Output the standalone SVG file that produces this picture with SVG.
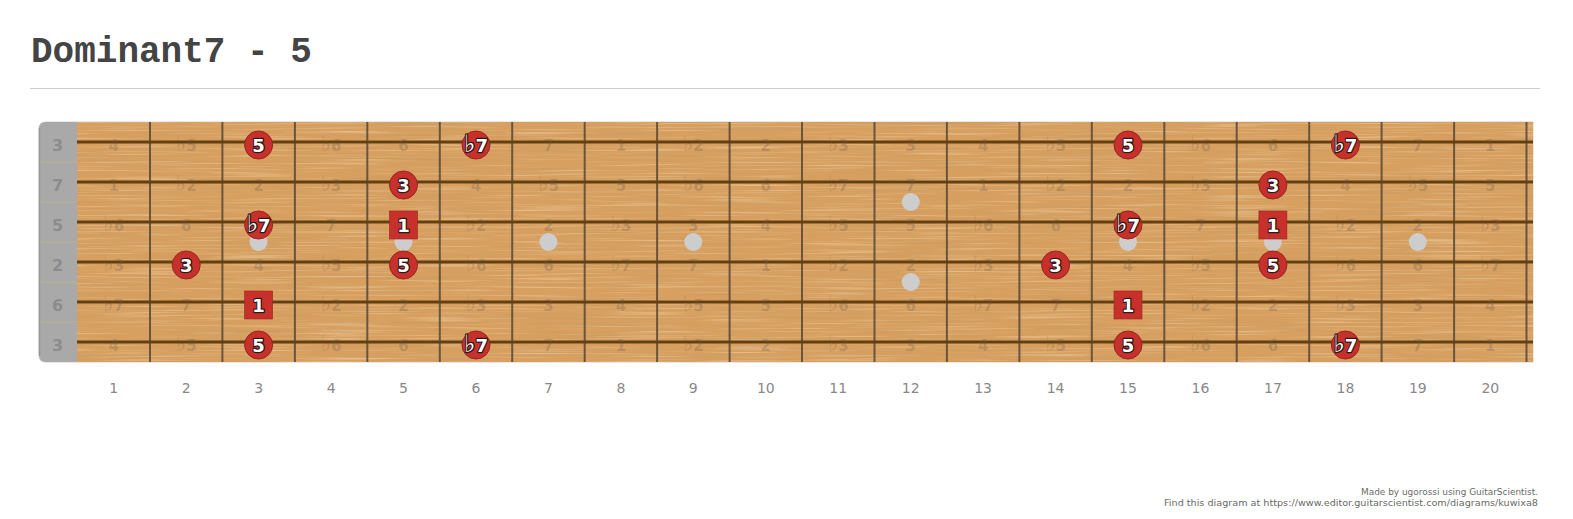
<svg xmlns="http://www.w3.org/2000/svg" width="1573" height="519" viewBox="0 0 1573 519">
<style>
.title{font-family:"Liberation Mono","DejaVu Sans Mono",monospace;font-weight:bold;font-size:36px;fill:#444}
.fret{stroke:#564636;stroke-width:2;stroke-opacity:0.85}
.str{stroke:#643f10;stroke-width:3}
.ghost{font-family:"DejaVu Sans",sans-serif;font-weight:bold;font-size:15px;fill:#6e5a46;fill-opacity:0.28;text-anchor:middle}
.fl{font-size:22px}
.slab{font-family:"DejaVu Sans",sans-serif;font-weight:bold;font-size:16px;fill:#8c8c8c;text-anchor:middle}
.fnum{font-family:"DejaVu Sans",sans-serif;font-size:14px;fill:#888;text-anchor:middle}
.inlay{fill:#cdcdcd}
.dot circle{fill:#c8302b;stroke:#962620;stroke-width:1}
.dot rect{fill:#c8302b;stroke:#962620;stroke-width:0.6}
.dot text{font-family:"DejaVu Sans",sans-serif;font-weight:bold;font-size:18px;fill:#fff;stroke:#2a1a1a;stroke-width:2.4;paint-order:stroke;stroke-linejoin:round;text-anchor:middle}
.dot .mf{font-size:24px}
.foot{font-family:"DejaVu Sans",sans-serif;font-size:9px;fill:#6a6a6a;text-anchor:end}
</style>
<defs>
<filter id="grain" x="0" y="0" width="100%" height="100%">
<feTurbulence type="fractalNoise" baseFrequency="0.006 0.4" numOctaves="3" seed="7" result="n"/>
<feColorMatrix in="n" type="matrix" values="0 0 0 0 0.6  0 0 0 0 0.33  0 0 0 0 0.12  1.9 0 0 0 -0.82"/>
</filter>
<filter id="grain2" x="0" y="0" width="100%" height="100%">
<feTurbulence type="fractalNoise" baseFrequency="0.01 0.6" numOctaves="2" seed="2" result="n"/>
<feColorMatrix in="n" type="matrix" values="0 0 0 0 0.93  0 0 0 0 0.76  0 0 0 0 0.52  1.3 0 0 0 -0.68"/>
</filter>
</defs>
<rect width="1573" height="519" fill="#fff"/>
<text class="title" x="31" y="62">Dominant7 - 5</text>
<line x1="30" y1="88.5" x2="1540" y2="88.5" stroke="#ccc" stroke-width="1"/>

<g id="board">
<path d="M46 121.5 H1533.5 V362.5 H46 Q38.5 362.5 38.5 355 V129 Q38.5 121.5 46 121.5 Z" fill="#cfcfcf"/>
<rect x="77" y="122" width="1456" height="240" fill="#d8a060"/>
<rect x="77" y="122" width="1456" height="240" filter="url(#grain)"/>
<rect x="77" y="122" width="1456" height="240" filter="url(#grain2)"/>
<path d="M46 122 H77 V362 H46 Q39 362 39 355 V129 Q39 122 46 122 Z" fill="#a9a9a9"/>
<g stroke="#c9b08a" stroke-width="1" stroke-opacity="0.6">
<line x1="40" y1="162" x2="77" y2="162"/><line x1="40" y1="202" x2="77" y2="202"/><line x1="40" y1="242" x2="77" y2="242"/><line x1="40" y1="282" x2="77" y2="282"/><line x1="40" y1="322" x2="77" y2="322"/>
</g>
<line x1="39.5" y1="128" x2="39.5" y2="356" stroke="#979797" stroke-width="1.5"/>
<g id="frets">
<line class="fret" x1="150" y1="122" x2="150" y2="362"/>
<line class="fret" x1="222.4" y1="122" x2="222.4" y2="362"/>
<line class="fret" x1="294.9" y1="122" x2="294.9" y2="362"/>
<line class="fret" x1="367.3" y1="122" x2="367.3" y2="362"/>
<line class="fret" x1="439.8" y1="122" x2="439.8" y2="362"/>
<line class="fret" x1="512.2" y1="122" x2="512.2" y2="362"/>
<line class="fret" x1="584.7" y1="122" x2="584.7" y2="362"/>
<line class="fret" x1="657.1" y1="122" x2="657.1" y2="362"/>
<line class="fret" x1="729.6" y1="122" x2="729.6" y2="362"/>
<line class="fret" x1="802" y1="122" x2="802" y2="362"/>
<line class="fret" x1="874.5" y1="122" x2="874.5" y2="362"/>
<line class="fret" x1="946.9" y1="122" x2="946.9" y2="362"/>
<line class="fret" x1="1019.4" y1="122" x2="1019.4" y2="362"/>
<line class="fret" x1="1091.8" y1="122" x2="1091.8" y2="362"/>
<line class="fret" x1="1164.3" y1="122" x2="1164.3" y2="362"/>
<line class="fret" x1="1236.7" y1="122" x2="1236.7" y2="362"/>
<line class="fret" x1="1309.2" y1="122" x2="1309.2" y2="362"/>
<line class="fret" x1="1381.6" y1="122" x2="1381.6" y2="362"/>
<line class="fret" x1="1454.1" y1="122" x2="1454.1" y2="362"/>
<line class="fret" x1="1526.5" y1="122" x2="1526.5" y2="362"/>
</g>
<g id="strings">
<line class="str" x1="77" y1="142" x2="1533" y2="142"/>
<line class="str" x1="77" y1="182" x2="1533" y2="182"/>
<line class="str" x1="77" y1="222" x2="1533" y2="222"/>
<line class="str" x1="77" y1="262" x2="1533" y2="262"/>
<line class="str" x1="77" y1="302" x2="1533" y2="302"/>
<line class="str" x1="77" y1="342" x2="1533" y2="342"/>
</g>
<g id="string-labels">
<text class="slab" x="57.5" y="151">3</text>
<text class="slab" x="57.5" y="191">7</text>
<text class="slab" x="57.5" y="231">5</text>
<text class="slab" x="57.5" y="271">2</text>
<text class="slab" x="57.5" y="311">6</text>
<text class="slab" x="57.5" y="351">3</text>
</g>
<g id="ghost-notes">
<text class="ghost" x="113.7" y="151">4</text><text class="ghost" x="186.2" y="151"><tspan class="fl">♭</tspan>5</text><text class="ghost" x="331.1" y="151"><tspan class="fl">♭</tspan>6</text><text class="ghost" x="403.5" y="151">6</text><text class="ghost" x="548.4" y="151">7</text><text class="ghost" x="620.9" y="151">1</text><text class="ghost" x="693.3" y="151"><tspan class="fl">♭</tspan>2</text><text class="ghost" x="765.8" y="151">2</text><text class="ghost" x="838.2" y="151"><tspan class="fl">♭</tspan>3</text><text class="ghost" x="910.7" y="151">3</text><text class="ghost" x="983.1" y="151">4</text><text class="ghost" x="1055.6" y="151"><tspan class="fl">♭</tspan>5</text><text class="ghost" x="1200.5" y="151"><tspan class="fl">♭</tspan>6</text><text class="ghost" x="1272.9" y="151">6</text><text class="ghost" x="1417.8" y="151">7</text><text class="ghost" x="1490.3" y="151">1</text>
<text class="ghost" x="113.7" y="191">1</text><text class="ghost" x="186.2" y="191"><tspan class="fl">♭</tspan>2</text><text class="ghost" x="258.6" y="191">2</text><text class="ghost" x="331.1" y="191"><tspan class="fl">♭</tspan>3</text><text class="ghost" x="476" y="191">4</text><text class="ghost" x="548.4" y="191"><tspan class="fl">♭</tspan>5</text><text class="ghost" x="620.9" y="191">5</text><text class="ghost" x="693.3" y="191"><tspan class="fl">♭</tspan>6</text><text class="ghost" x="765.8" y="191">6</text><text class="ghost" x="838.2" y="191"><tspan class="fl">♭</tspan>7</text><text class="ghost" x="910.7" y="191">7</text><text class="ghost" x="983.1" y="191">1</text><text class="ghost" x="1055.6" y="191"><tspan class="fl">♭</tspan>2</text><text class="ghost" x="1128" y="191">2</text><text class="ghost" x="1200.5" y="191"><tspan class="fl">♭</tspan>3</text><text class="ghost" x="1345.4" y="191">4</text><text class="ghost" x="1417.8" y="191"><tspan class="fl">♭</tspan>5</text><text class="ghost" x="1490.3" y="191">5</text>
<text class="ghost" x="113.7" y="231"><tspan class="fl">♭</tspan>6</text><text class="ghost" x="186.2" y="231">6</text><text class="ghost" x="331.1" y="231">7</text><text class="ghost" x="476" y="231"><tspan class="fl">♭</tspan>2</text><text class="ghost" x="548.4" y="231">2</text><text class="ghost" x="620.9" y="231"><tspan class="fl">♭</tspan>3</text><text class="ghost" x="693.3" y="231">3</text><text class="ghost" x="765.8" y="231">4</text><text class="ghost" x="838.2" y="231"><tspan class="fl">♭</tspan>5</text><text class="ghost" x="910.7" y="231">5</text><text class="ghost" x="983.1" y="231"><tspan class="fl">♭</tspan>6</text><text class="ghost" x="1055.6" y="231">6</text><text class="ghost" x="1200.5" y="231">7</text><text class="ghost" x="1345.4" y="231"><tspan class="fl">♭</tspan>2</text><text class="ghost" x="1417.8" y="231">2</text><text class="ghost" x="1490.3" y="231"><tspan class="fl">♭</tspan>3</text>
<text class="ghost" x="113.7" y="271"><tspan class="fl">♭</tspan>3</text><text class="ghost" x="258.6" y="271">4</text><text class="ghost" x="331.1" y="271"><tspan class="fl">♭</tspan>5</text><text class="ghost" x="476" y="271"><tspan class="fl">♭</tspan>6</text><text class="ghost" x="548.4" y="271">6</text><text class="ghost" x="620.9" y="271"><tspan class="fl">♭</tspan>7</text><text class="ghost" x="693.3" y="271">7</text><text class="ghost" x="765.8" y="271">1</text><text class="ghost" x="838.2" y="271"><tspan class="fl">♭</tspan>2</text><text class="ghost" x="910.7" y="271">2</text><text class="ghost" x="983.1" y="271"><tspan class="fl">♭</tspan>3</text><text class="ghost" x="1128" y="271">4</text><text class="ghost" x="1200.5" y="271"><tspan class="fl">♭</tspan>5</text><text class="ghost" x="1345.4" y="271"><tspan class="fl">♭</tspan>6</text><text class="ghost" x="1417.8" y="271">6</text><text class="ghost" x="1490.3" y="271"><tspan class="fl">♭</tspan>7</text>
<text class="ghost" x="113.7" y="311"><tspan class="fl">♭</tspan>7</text><text class="ghost" x="186.2" y="311">7</text><text class="ghost" x="331.1" y="311"><tspan class="fl">♭</tspan>2</text><text class="ghost" x="403.5" y="311">2</text><text class="ghost" x="476" y="311"><tspan class="fl">♭</tspan>3</text><text class="ghost" x="548.4" y="311">3</text><text class="ghost" x="620.9" y="311">4</text><text class="ghost" x="693.3" y="311"><tspan class="fl">♭</tspan>5</text><text class="ghost" x="765.8" y="311">5</text><text class="ghost" x="838.2" y="311"><tspan class="fl">♭</tspan>6</text><text class="ghost" x="910.7" y="311">6</text><text class="ghost" x="983.1" y="311"><tspan class="fl">♭</tspan>7</text><text class="ghost" x="1055.6" y="311">7</text><text class="ghost" x="1200.5" y="311"><tspan class="fl">♭</tspan>2</text><text class="ghost" x="1272.9" y="311">2</text><text class="ghost" x="1345.4" y="311"><tspan class="fl">♭</tspan>3</text><text class="ghost" x="1417.8" y="311">3</text><text class="ghost" x="1490.3" y="311">4</text>
<text class="ghost" x="113.7" y="351">4</text><text class="ghost" x="186.2" y="351"><tspan class="fl">♭</tspan>5</text><text class="ghost" x="331.1" y="351"><tspan class="fl">♭</tspan>6</text><text class="ghost" x="403.5" y="351">6</text><text class="ghost" x="548.4" y="351">7</text><text class="ghost" x="620.9" y="351">1</text><text class="ghost" x="693.3" y="351"><tspan class="fl">♭</tspan>2</text><text class="ghost" x="765.8" y="351">2</text><text class="ghost" x="838.2" y="351"><tspan class="fl">♭</tspan>3</text><text class="ghost" x="910.7" y="351">3</text><text class="ghost" x="983.1" y="351">4</text><text class="ghost" x="1055.6" y="351"><tspan class="fl">♭</tspan>5</text><text class="ghost" x="1200.5" y="351"><tspan class="fl">♭</tspan>6</text><text class="ghost" x="1272.9" y="351">6</text><text class="ghost" x="1417.8" y="351">7</text><text class="ghost" x="1490.3" y="351">1</text>
</g>
<g id="inlays">
<circle class="inlay" cx="258.6" cy="242" r="9"/>
<circle class="inlay" cx="403.5" cy="242" r="9"/>
<circle class="inlay" cx="548.4" cy="242" r="9"/>
<circle class="inlay" cx="693.3" cy="242" r="9"/>
<circle class="inlay" cx="910.7" cy="202" r="9"/>
<circle class="inlay" cx="910.7" cy="282" r="9"/>
<circle class="inlay" cx="1128" cy="242" r="9"/>
<circle class="inlay" cx="1272.9" cy="242" r="9"/>
<circle class="inlay" cx="1417.8" cy="242" r="9"/>
</g>
</g>

<g id="connectors"></g>

<g id="s1f3" class="dot"><circle cx="258.6" cy="145" r="14"/><text x="258.6" y="151.5">5</text></g>
<g id="s1f6" class="dot"><circle cx="476" cy="145" r="14"/><text x="476" y="151.5"><tspan class="mf">♭</tspan>7</text></g>
<g id="s1f15" class="dot"><circle cx="1128" cy="145" r="14"/><text x="1128" y="151.5">5</text></g>
<g id="s1f18" class="dot"><circle cx="1345.4" cy="145" r="14"/><text x="1345.4" y="151.5"><tspan class="mf">♭</tspan>7</text></g>
<g id="s2f5" class="dot"><circle cx="403.5" cy="185" r="14"/><text x="403.5" y="191.5">3</text></g>
<g id="s2f17" class="dot"><circle cx="1272.9" cy="185" r="14"/><text x="1272.9" y="191.5">3</text></g>
<g id="s3f3" class="dot"><circle cx="258.6" cy="225" r="14"/><text x="258.6" y="231.5"><tspan class="mf">♭</tspan>7</text></g>
<g id="s3f5" class="dot"><rect x="389.5" y="211" width="28" height="28"/><text x="403.5" y="231.5">1</text></g>
<g id="s3f15" class="dot"><circle cx="1128" cy="225" r="14"/><text x="1128" y="231.5"><tspan class="mf">♭</tspan>7</text></g>
<g id="s3f17" class="dot"><rect x="1258.9" y="211" width="28" height="28"/><text x="1272.9" y="231.5">1</text></g>
<g id="s4f2" class="dot"><circle cx="186.2" cy="265" r="14"/><text x="186.2" y="271.5">3</text></g>
<g id="s4f5" class="dot"><circle cx="403.5" cy="265" r="14"/><text x="403.5" y="271.5">5</text></g>
<g id="s4f14" class="dot"><circle cx="1055.6" cy="265" r="14"/><text x="1055.6" y="271.5">3</text></g>
<g id="s4f17" class="dot"><circle cx="1272.9" cy="265" r="14"/><text x="1272.9" y="271.5">5</text></g>
<g id="s5f3" class="dot"><rect x="244.6" y="291" width="28" height="28"/><text x="258.6" y="311.5">1</text></g>
<g id="s5f15" class="dot"><rect x="1114" y="291" width="28" height="28"/><text x="1128" y="311.5">1</text></g>
<g id="s6f3" class="dot"><circle cx="258.6" cy="345" r="14"/><text x="258.6" y="351.5">5</text></g>
<g id="s6f6" class="dot"><circle cx="476" cy="345" r="14"/><text x="476" y="351.5"><tspan class="mf">♭</tspan>7</text></g>
<g id="s6f15" class="dot"><circle cx="1128" cy="345" r="14"/><text x="1128" y="351.5">5</text></g>
<g id="s6f18" class="dot"><circle cx="1345.4" cy="345" r="14"/><text x="1345.4" y="351.5"><tspan class="mf">♭</tspan>7</text></g>

<g id="fret-numbers">
<text class="fnum" x="113.7" y="393">1</text><text class="fnum" x="186.2" y="393">2</text><text class="fnum" x="258.6" y="393">3</text><text class="fnum" x="331.1" y="393">4</text><text class="fnum" x="403.5" y="393">5</text><text class="fnum" x="476" y="393">6</text><text class="fnum" x="548.4" y="393">7</text><text class="fnum" x="620.9" y="393">8</text><text class="fnum" x="693.3" y="393">9</text><text class="fnum" x="765.8" y="393">10</text><text class="fnum" x="838.2" y="393">11</text><text class="fnum" x="910.7" y="393">12</text><text class="fnum" x="983.1" y="393">13</text><text class="fnum" x="1055.6" y="393">14</text><text class="fnum" x="1128" y="393">15</text><text class="fnum" x="1200.5" y="393">16</text><text class="fnum" x="1272.9" y="393">17</text><text class="fnum" x="1345.4" y="393">18</text><text class="fnum" x="1417.8" y="393">19</text><text class="fnum" x="1490.3" y="393">20</text>
</g>

<text class="foot" x="1538" y="495" textLength="177" lengthAdjust="spacingAndGlyphs">Made by ugorossi using GuitarScientist.</text>
<text class="foot" x="1538" y="506" textLength="374" lengthAdjust="spacingAndGlyphs">Find this diagram at https://www.editor.guitarscientist.com/diagrams/kuwixa8</text>
</svg>
